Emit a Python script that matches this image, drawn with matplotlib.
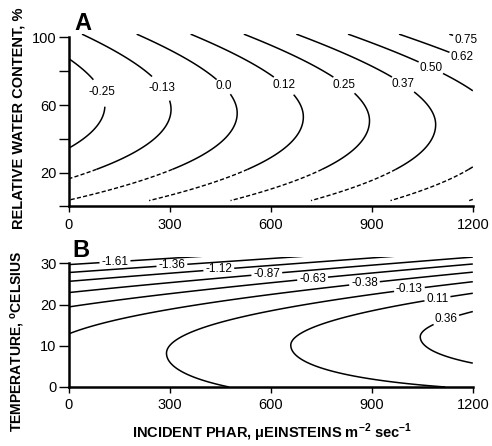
import numpy as np
import matplotlib
matplotlib.use('Agg')
import matplotlib.pyplot as plt

plt.rcParams['font.family'] = ['Liberation Sans', 'DejaVu Sans']
plt.rcParams['mathtext.fontset'] = 'custom'
plt.rcParams['mathtext.rm'] = 'Liberation Sans'
plt.rcParams['mathtext.bf'] = 'Liberation Sans:bold'

# axes ticks
phar_ticks = [0, 300, 600, 900, 1200]
rwc_ticks = [0, 20, 40, 60, 80, 100]
rwc_ticklabels = ['', '20', '', '60', '', '100']
temp_ticks = [0, 10, 20, 30]

# panel A: net photosynthesis vs PHAR and relative water content (fitted surface)
levels_a = [-0.25, -0.125, 0.0, 0.125, 0.25, 0.375, 0.5, 0.625, 0.75]
labels_a = ['-0.25', '-0.13', '0.0', '0.12', '0.25', '0.37', '0.50', '0.62', '0.75']
a_min = [-0.318, 0.000636]     # minimum over RWC, intercept + slope on PHAR
a_opt = [61.0, -0.0115]        # RWC of the minimum
a_curv = [9.72e-5, 2.0e-8]     # curvature (upper side grows with PHAR)
rwc_dash = 22                  # below this the lines are dashed
lab_pos_a = [(125, 70), (275, 70), (455, 70), (632, 70), (810, 70),
             (985, 70), (1075, 82), (1165, 87), (1180, 99)]

# panel B: net photosynthesis vs PHAR and temperature
levels_b = [-1.61, -1.36, -1.12, -0.87, -0.63, -0.38, -0.13, 0.11, 0.36]
labels_b = ['-1.61', '-1.36', '-1.12', '-0.87', '-0.63', '-0.38', '-0.13', '0.11', '0.36']
b_max = [-0.3185, 0.00065]
b_opt = [6.66, 0.0053]
b_lo = [0.0011, 7e-7]
b_q2 = [0.00126, 1.88e-6]
b_q3 = [5.08e-5, -2.57e-8]
lab_pos_b = [(137, 30.4), (306, 29.6), (445, 28.9), (588, 27.4), (724, 26.3),
             (878, 25.3), (1012, 23.5), (1095, 21.4), (1125, 15.4)]


def field_a(x, w):
    m = a_min[0] + a_min[1] * x
    d = w - (a_opt[0] + a_opt[1] * x)
    e = np.where(d > 0, a_curv[0] + a_curv[1] * x, a_curv[0])
    return m + e * d ** 2


def field_b(x, t):
    m = b_max[0] + b_max[1] * x
    d = t - (b_opt[0] + b_opt[1] * x)
    lo = m - (b_lo[0] + b_lo[1] * x) * d ** 2
    hi = m - (b_q2[0] + b_q2[1] * x) * d ** 2 - (b_q3[0] + b_q3[1] * x) * d ** 3
    return np.where(d > 0, hi, lo)


def style(ax, yticks, ylabels, ytop, ybound):
    for s in ['top', 'right']:
        ax.spines[s].set_visible(False)
    ax.spines['left'].set_linewidth(1.8)
    ax.spines['bottom'].set_linewidth(1.8)
    ax.spines['left'].set_bounds(0, ybound)
    ax.set_xlim(0, 1200)
    ax.set_ylim(0, ytop)
    ax.set_xticks(phar_ticks)
    ax.set_yticks(yticks)
    ax.set_yticklabels(ylabels)
    ax.tick_params(axis='y', length=7, width=1, pad=2, labelsize=10.5)
    ax.tick_params(axis='x', length=4, width=1, pad=4, labelsize=10.5)


def label(ax, cs, levels, names, pos):
    txt = ax.clabel(cs, levels, fmt=dict(zip(cs.levels, names)),
                    manual=pos, inline=True, inline_spacing=2, fontsize=8.5)
    for t in txt:
        t.set_rotation(0)
        t.set_clip_on(False)


fig = plt.figure(figsize=(4.92, 4.46), dpi=100)
axa = fig.add_axes([0.140, 0.537, 0.821, 0.3865])
axb = fig.add_axes([0.140, 0.1323, 0.821, 0.291])

x = np.linspace(0, 1200, 500)
w_hi = np.linspace(rwc_dash, 102, 300)
w_lo = np.linspace(3.5, rwc_dash, 80)
X, W = np.meshgrid(x, w_hi)
csa = axa.contour(X, W, field_a(X, W), levels=levels_a, colors='k',
                  linewidths=1.1, linestyles='solid', negative_linestyles='solid')
X2, W2 = np.meshgrid(x, w_lo)
axa.contour(X2, W2, field_a(X2, W2), levels=levels_a, colors='k',
            linewidths=1.0, linestyles=[(0, (3, 1.6))],
            negative_linestyles=[(0, (3, 1.6))])
label(axa, csa, levels_a, labels_a, lab_pos_a)
style(axa, rwc_ticks, rwc_ticklabels, 102, 100)

t = np.linspace(0, 32, 400)
X3, T3 = np.meshgrid(x, t)
csb = axb.contour(X3, T3, field_b(X3, T3), levels=levels_b, colors='k',
                  linewidths=1.1, linestyles='solid', negative_linestyles='solid')
label(axb, csb, levels_b, labels_b, lab_pos_b)
style(axb, temp_ticks, [str(v) for v in temp_ticks], 31.5, 30)

fig.text(0.152, 0.933, 'A', fontsize=17, fontweight='bold', va='baseline')
fig.text(0.148, 0.424, 'B', fontsize=17, fontweight='bold', va='baseline')
fig.text(0.037, 0.735, 'RELATIVE WATER CONTENT, %', rotation=90,
         ha='center', va='center', fontsize=10.5, fontweight='bold')
fig.text(0.037, 0.235, r'TEMPERATURE, $^{\mathbf{o}}$CELSIUS', rotation=90,
         ha='center', va='center', fontsize=10, fontweight='bold')
fig.text(0.553, 0.018, r'INCIDENT PHAR, $\mathbf{\mu}$EINSTEINS m$^{\mathbf{-2}}$ sec$^{\mathbf{-1}}$',
         ha='center', va='baseline', fontsize=10.5, fontweight='bold')

fig.savefig('out.png', dpi=100)
